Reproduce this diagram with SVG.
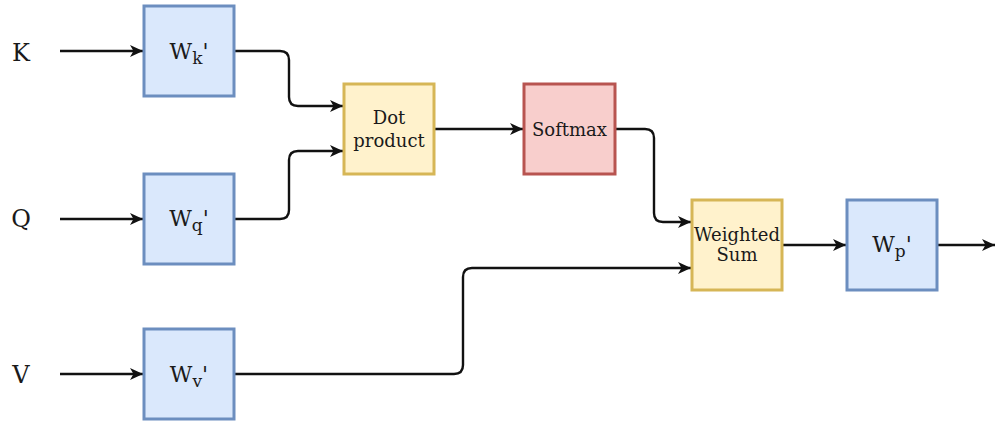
<svg xmlns="http://www.w3.org/2000/svg" width="995" height="422" viewBox="0 0 995 422">
<defs>
<style>
.blue{fill:#dae8fc;stroke:#6c8ebf;stroke-width:3}
.yel{fill:#fff2cc;stroke:#d6b656;stroke-width:3}
.red{fill:#f8cecc;stroke:#b85450;stroke-width:3}
.t{font-family:"DejaVu Serif",serif;fill:#1a1a1a;text-anchor:middle}
.lbl{font-size:24px}
.w{font-size:22px}
.s{font-size:18px}
.c{fill:none;stroke:#111;stroke-width:2.4}
</style>
<marker id="ah" markerUnits="userSpaceOnUse" markerWidth="16" markerHeight="14" refX="13" refY="7" orient="auto">
<path d="M0,1 L13,7 L0,13 L3.5,7 z" fill="#111"/>
</marker>
</defs>
<rect width="995" height="422" fill="#fff"/>
<g id="connectors">
<path class="c" d="M60,51 H143" marker-end="url(#ah)"/>
<path class="c" d="M60,219 H143" marker-end="url(#ah)"/>
<path class="c" d="M60,374 H143" marker-end="url(#ah)"/>
<path class="c" d="M235,51 H280 Q289,51 289,60 V97 Q289,106 298,106 H343" marker-end="url(#ah)"/>
<path class="c" d="M235,219 H280 Q289,219 289,210 V160 Q289,151 298,151 H343" marker-end="url(#ah)"/>
<path class="c" d="M435,129 H523" marker-end="url(#ah)"/>
<path class="c" d="M616,129 H645 Q654,129 654,138 V213 Q654,222 663,222 H691" marker-end="url(#ah)"/>
<path class="c" d="M235,374 H454 Q463,374 463,365 V277 Q463,268 472,268 H691" marker-end="url(#ah)"/>
<path class="c" d="M783,245 H846" marker-end="url(#ah)"/>
<path class="c" d="M938,245 H995" marker-end="url(#ah)"/>
</g>
<g id="K"><text class="t lbl" x="21" y="61">K</text></g>
<g id="Q"><text class="t lbl" x="21" y="227">Q</text></g>
<g id="V"><text class="t lbl" x="21" y="383">V</text></g>
<g id="Wk"><rect class="blue" x="144" y="6" width="90" height="90"/><text class="t w" x="189" y="59">W<tspan font-size="17" dy="5">k</tspan><tspan dy="-5">'</tspan></text></g>
<g id="Wq"><rect class="blue" x="144" y="174" width="90" height="90"/><text class="t w" x="189" y="226">W<tspan font-size="17" dy="5">q</tspan><tspan dy="-5">'</tspan></text></g>
<g id="Wv"><rect class="blue" x="144" y="329" width="90" height="90"/><text class="t w" x="189" y="382">W<tspan font-size="17" dy="5">v</tspan><tspan dy="-5">'</tspan></text></g>
<g id="Dot"><rect class="yel" x="344" y="84" width="90" height="90"/><text class="t s" x="389" y="124">Dot</text><text class="t s" x="389" y="147">product</text></g>
<g id="Softmax"><rect class="red" x="524" y="84" width="91" height="90"/><text class="t s" x="569.5" y="136">Softmax</text></g>
<g id="WSum"><rect class="yel" x="692" y="200" width="90" height="90"/><text class="t s" x="737" y="241">Weighted</text><text class="t s" x="737" y="261">Sum</text></g>
<g id="Wp"><rect class="blue" x="847" y="200" width="90" height="90"/><text class="t w" x="892" y="252">W<tspan font-size="17" dy="5">p</tspan><tspan dy="-5">'</tspan></text></g>
</svg>
